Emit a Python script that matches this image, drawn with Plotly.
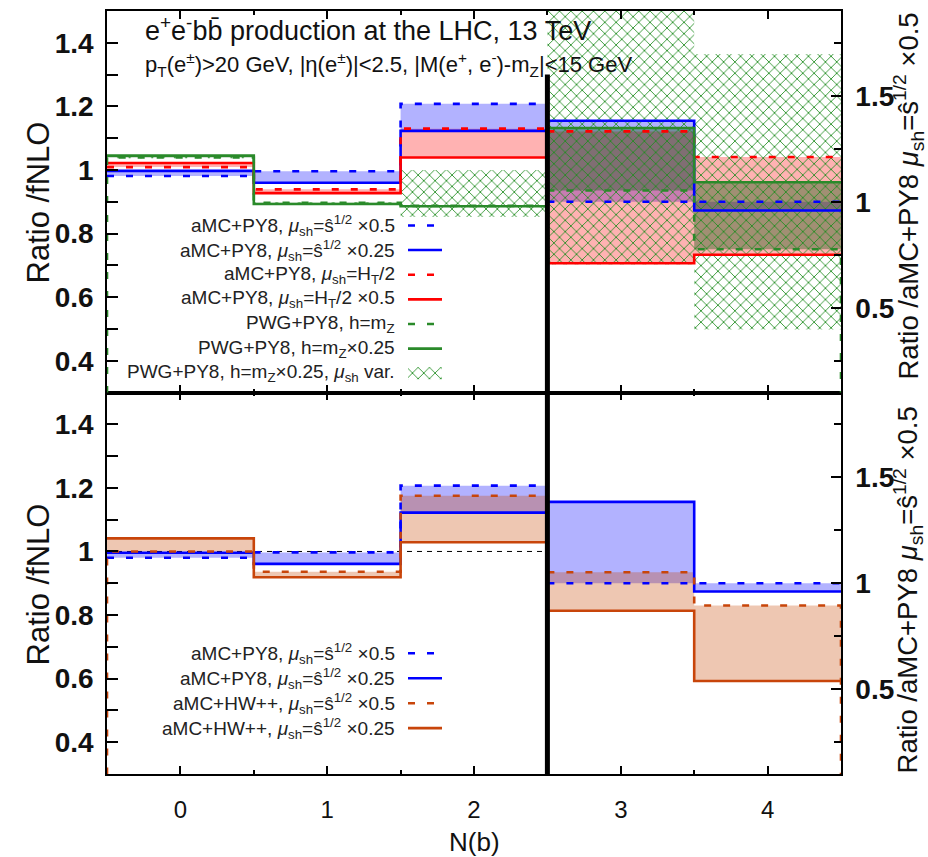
import plotly.graph_objects as go

# ---------------------------------------------------------------- data
# N(b) bins; bins 0-2 are ratios to fNLO (left axis),
# bins 3-4 are ratios to aMC+PY8 mu_sh = s^1/2 x0.5 (right axis)
n_b = [0, 1, 2, 3, 4]
edges = [-0.5, 0.5, 1.5, 2.5, 3.5, 4.5]
n_left = 3

# upper panel
top_amc_py8_shat05 = [0.981, 0.996, 1.208, 1.000, 1.000]
top_amc_py8_shat025 = [0.997, 0.960, 1.123, 1.382, 0.959]
top_amc_py8_ht = [1.009, 0.939, 1.130, 1.332, 1.211]
top_amc_py8_ht05 = [1.022, 0.927, 1.039, 0.710, 0.750]
top_pwg_mz = [1.039, 0.897, 0.887, 1.053, 0.776]
top_pwg_mz025 = [1.045, 0.893, 0.886, 1.348, 1.092]
top_pwg_var_lo = [1.037, 0.891, 0.852, 0.704, 0.397]
top_pwg_var_hi = [1.046, 0.899, 1.000, 2.000, 1.697]

# lower panel
bot_amc_py8_shat05 = [0.980, 0.997, 1.207, 1.000, 1.000]
bot_amc_py8_shat025 = [0.996, 0.961, 1.122, 1.384, 0.961]
bot_amc_hw_shat05 = [1.000, 0.936, 1.175, 1.052, 0.895]
bot_amc_hw_shat025 = [1.041, 0.919, 1.029, 0.870, 0.539]

left_ticks = [0.4, 0.6, 0.8, 1.0, 1.2, 1.4]
right_ticks = [0.5, 1.0, 1.5]
x_ticks = n_b

BLUE = "#0000ff"
RED = "#ff0000"
GREEN = "#2a8a2a"
BROWN = "#c8450a"
BLUE_FILL = "rgba(0,0,255,0.30)"
RED_FILL = "rgba(255,0,0,0.30)"
GREEN_FILL = "rgba(20,90,20,0.40)"
BROWN_FILL = "rgba(200,70,0,0.30)"

FONT = "Liberation Sans"
DASH = "7px,12px"
LW = 2.6

# pixel frame of the plotting area
W_FIG, H_FIG = 928, 857
L, R, T, B = 107, 841, 9, 774


def px(xp):
    return (xp - L) / (R - L)


def py(yp):
    return (B - yp) / (B - T)


def steps(vals, lo, hi):
    xs, ys = [], []
    for i in range(lo, hi):
        xs += [edges[i], edges[i + 1]]
        ys += [vals[i], vals[i]]
    return xs, ys


def band(upper, lower, lo, hi):
    xu, yu = steps(upper, lo, hi)
    xl, yl = steps(lower, lo, hi)
    return xu + xl[::-1] + [xu[0]], yu + yl[::-1] + [yu[0]]


fig = go.Figure()

# panel -> (x axis, left y axis, right y axis)
PANELS = {"top": ("x2", "y3", "y4"), "bot": ("x", "y", "y2")}


def add_band(panel, upper, lower, color, pattern=None):
    xa, yl, yr = PANELS[panel]
    for lo, hi, ya in ((0, n_left, yl), (n_left, len(n_b), yr)):
        bx, by = band(upper, lower, lo, hi)
        kw = dict(fill="toself", fillcolor=color)
        if pattern:
            kw["fillpattern"] = pattern
        fig.add_trace(go.Scatter(x=bx, y=by, mode="lines", line=dict(width=0),
                                 xaxis=xa, yaxis=ya, hoverinfo="skip",
                                 showlegend=False, **kw))


def add_steps(panel, vals, color, dash=None, drop_ends=False):
    xa, yl, yr = PANELS[panel]
    for lo, hi, ya in ((0, n_left, yl), (n_left, len(n_b), yr)):
        sx, sy = steps(vals, lo, hi)
        if drop_ends and lo == 0:
            sx, sy = [edges[0]] + sx, [0.0] + sy
        if drop_ends and hi == len(n_b):
            sx, sy = sx + [edges[-1]], sy + [0.0]
        fig.add_trace(go.Scatter(x=sx, y=sy, mode="lines",
                                 line=dict(color=color, width=LW, dash=dash or "solid"),
                                 xaxis=xa, yaxis=ya, hoverinfo="skip", showlegend=False))


HATCH = dict(shape="x", fgcolor="#1f8c1f", bgcolor="rgba(0,0,0,0)", size=8,
             solidity=0.2, fgopacity=1)

# ---- upper panel
add_band("top", top_amc_py8_shat05, top_amc_py8_shat025, BLUE_FILL)
add_band("top", top_amc_py8_ht, top_amc_py8_ht05, RED_FILL)
add_band("top", top_pwg_mz, top_pwg_mz025, GREEN_FILL)
add_band("top", top_pwg_var_hi, top_pwg_var_lo, "rgba(0,0,0,0)", HATCH)
add_steps("top", top_amc_py8_shat05, BLUE, DASH)
add_steps("top", top_amc_py8_shat025, BLUE)
add_steps("top", top_amc_py8_ht, RED, DASH)
add_steps("top", top_amc_py8_ht05, RED)
add_steps("top", top_pwg_mz, GREEN, DASH, drop_ends=True)
add_steps("top", top_pwg_mz025, GREEN)

# ---- lower panel
fig.add_trace(go.Scatter(x=[edges[0], edges[n_left]], y=[1.0, 1.0], mode="lines",
                         line=dict(color="black", width=1, dash="5px,5px"),
                         xaxis="x", yaxis="y", hoverinfo="skip", showlegend=False))
add_band("bot", bot_amc_py8_shat05, bot_amc_py8_shat025, BLUE_FILL)
add_band("bot", bot_amc_hw_shat05, bot_amc_hw_shat025, BROWN_FILL)
add_steps("bot", bot_amc_py8_shat05, BLUE, DASH)
add_steps("bot", bot_amc_py8_shat025, BLUE)
add_steps("bot", bot_amc_hw_shat05, BROWN, DASH, drop_ends=True)
add_steps("bot", bot_amc_hw_shat025, BROWN)

# ---------------------------------------------------------------- legends
MU = "<i>μ</i><sub>sh</sub>"
SHAT = "ŝ<sup>1/2</sup>"
top_entries = [
    (f"aMC+PY8, {MU}={SHAT} ×0.5", BLUE, DASH),
    (f"aMC+PY8, {MU}={SHAT} ×0.25", BLUE, "solid"),
    (f"aMC+PY8, {MU}=H<sub>T</sub>/2", RED, DASH),
    (f"aMC+PY8, {MU}=H<sub>T</sub>/2 ×0.5", RED, "solid"),
    ("PWG+PY8, h=m<sub>Z</sub>", GREEN, DASH),
    ("PWG+PY8, h=m<sub>Z</sub>×0.25", GREEN, "solid"),
    (f"PWG+PY8, h=m<sub>Z</sub>×0.25, {MU} var.", GREEN, "hatch"),
]
bot_entries = [
    (f"aMC+PY8, {MU}={SHAT} ×0.5", BLUE, DASH),
    (f"aMC+PY8, {MU}={SHAT} ×0.25", BLUE, "solid"),
    (f"aMC+HW++, {MU}={SHAT} ×0.5", BROWN, DASH),
    (f"aMC+HW++, {MU}={SHAT} ×0.25", BROWN, "solid"),
]

annotations = []
shapes = []
KEY_TEXT_X, KEY_X0, KEY_X1 = 397, 408, 442


def add_key(entries, y_first, dy):
    for k, (label, color, style) in enumerate(entries):
        yc = y_first + k * dy
        annotations.append(dict(text=label, x=px(KEY_TEXT_X), y=py(yc), xref="paper", yref="paper",
                                xanchor="right", yanchor="middle", showarrow=False,
                                font=dict(family=FONT, size=19, color="#222")))
        if style == "hatch":
            fig.add_trace(go.Scatter(
                x=[px(KEY_X0), px(KEY_X1), px(KEY_X1), px(KEY_X0), px(KEY_X0)],
                y=[py(yc - 6), py(yc - 6), py(yc + 6), py(yc + 6), py(yc - 6)],
                mode="lines", line=dict(width=0), fill="toself", fillcolor="rgba(0,0,0,0)",
                fillpattern=HATCH, xaxis="x3", yaxis="y5", hoverinfo="skip", showlegend=False))
        else:
            shapes.append(dict(type="line", xref="paper", yref="paper",
                               x0=px(KEY_X0), x1=px(KEY_X1), y0=py(yc), y1=py(yc),
                               line=dict(color=color, width=LW, dash=style)))


add_key(top_entries, 224, 24.7)
add_key(bot_entries, 653, 25)

# separator between the fNLO and aMC+PY8 normalised bins
shapes.append(dict(type="line", xref="x2", yref="y3", x0=edges[n_left], x1=edges[n_left],
                   y0=0.3, y1=1.3, line=dict(color="black", width=5), layer="above"))
shapes.append(dict(type="line", xref="x", yref="y", x0=edges[n_left], x1=edges[n_left],
                   y0=0.3, y1=1.5, line=dict(color="black", width=5), layer="above"))

# titles
annotations.append(dict(text="e<sup>+</sup>e<sup>-</sup>bb\u0304 production at the LHC, 13 TeV",
                        x=px(143), y=py(27), xref="paper", yref="paper", xanchor="left",
                        yanchor="middle", showarrow=False,
                        font=dict(family=FONT, size=27, color="#111")))
annotations.append(dict(text="p<sub>T</sub>(e<sup>±</sup>)&gt;20 GeV, |η(e<sup>±</sup>)|&lt;2.5, "
                             "|M(e<sup>+</sup>, e<sup>-</sup>)-m<sub>Z</sub>|&lt;15 GeV",
                        x=px(143), y=py(63), xref="paper", yref="paper", xanchor="left",
                        yanchor="middle", showarrow=False,
                        font=dict(family=FONT, size=22, color="#111")))

# axis titles
for yc_left, yc_right in ((201, 195), (584, 590)):
    annotations.append(dict(text="Ratio /fNLO", x=px(38), y=py(yc_left), xref="paper", yref="paper",
                            textangle=-90, showarrow=False, xanchor="center", yanchor="middle",
                            font=dict(family=FONT, size=31, color="#111")))
    annotations.append(dict(text=f"Ratio /aMC+PY8 {MU}={SHAT} ×0.5", x=px(908), y=py(yc_right),
                            xref="paper", yref="paper", textangle=-90, showarrow=False,
                            xanchor="center", yanchor="middle",
                            font=dict(family=FONT, size=27.5, color="#111")))
annotations.append(dict(text="N(b)", x=px(474), y=py(842), xref="paper", yref="paper",
                        showarrow=False, xanchor="center", yanchor="middle",
                        font=dict(family=FONT, size=26, color="#111")))

# ---------------------------------------------------------------- axes
frame = dict(showline=True, linecolor="black", linewidth=1.5, ticks="inside",
             tickcolor="black", showgrid=False, zeroline=False)
xcommon = dict(frame, range=[edges[0], edges[-1]], tickvals=x_ticks, ticklen=8,
               tickwidth=1.5, mirror="ticks",
               minor=dict(dtick=0.5, tick0=0.5, ticklen=4, ticks="inside", tickcolor="black"))
yleft = dict(frame, range=[0.3, 1.5], tickvals=left_ticks, ticklen=11, tickwidth=1.5,
             tickfont=dict(family=FONT, size=28, color="#111", weight="bold"),
             ticklabelstandoff=6,
             minor=dict(dtick=0.1, tick0=0.3, ticklen=11, ticks="inside", tickcolor="black"))
yright = dict(frame, range=[0.1, 1.9], tickvals=right_ticks, ticklen=10, tickwidth=1.5,
              side="right",
              tickfont=dict(family=FONT, size=28, color="#111", weight="bold"),
              ticklabelstandoff=7,
              minor=dict(dtick=0.25, tick0=0.25, ticklen=7, ticks="inside", tickcolor="black"))

fig.update_layout(
    width=W_FIG, height=H_FIG,
    margin=dict(l=L, r=W_FIG - R, t=T, b=H_FIG - B),
    paper_bgcolor="white", plot_bgcolor="rgba(0,0,0,0)",
    showlegend=False,
    xaxis=dict(xcommon, anchor="y", domain=[0, 1],
               tickfont=dict(family=FONT, size=24, color="#111"), ticklabelstandoff=13),
    xaxis2=dict(xcommon, anchor="y3", domain=[0, 1], matches="x", showticklabels=False),
    xaxis3=dict(domain=[0, 1], range=[0, 1], anchor="y5", visible=False),
    yaxis=dict(yleft, domain=[0, 0.5], anchor="x"),
    yaxis2=dict(yright, overlaying="y", anchor="x"),
    yaxis3=dict(yleft, domain=[0.5, 1], anchor="x2"),
    yaxis4=dict(yright, overlaying="y3", anchor="x2"),
    yaxis5=dict(domain=[0, 1], range=[0, 1], anchor="x3", visible=False),
    annotations=annotations,
    shapes=shapes,
)

fig.write_html("out.html")
